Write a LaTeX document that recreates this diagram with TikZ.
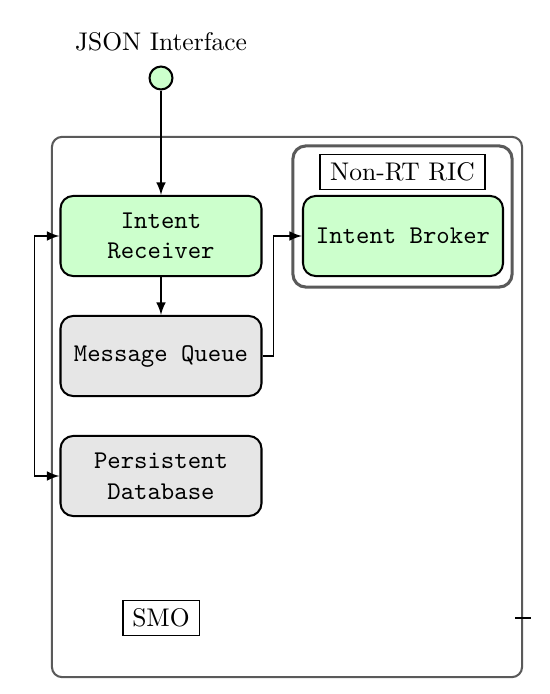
\documentclass[tikz,border=0pt]{standalone}
\usetikzlibrary{arrows}
\definecolor{rxgreen}{RGB}{204,255,204}
\definecolor{qgray}{RGB}{230,230,230}
\definecolor{framegray}{RGB}{90,90,90}
\begin{document}
\begin{tikzpicture}[
                     x = 0.392pt,
                     y = -0.392pt,
          block/.style = {draw, thick, rounded corners=5pt, minimum width=78.8pt,
                          minimum height=31.4pt, align=center, font=\ttfamily},
      greenbox/.style = {block, fill=rxgreen},
       graybox/.style = {block, fill=qgray},
      tagbox/.style = {draw, semithick, inner sep=3pt, minimum height=13.7pt},
         flow/.style = {draw, line width=0.7pt, -latex},
                     ]
\useasboundingbox (0,0) rectangle (550,694);
% containers
\node[draw=framegray, thick, rounded corners=4pt, minimum width=184.3pt,
      minimum height=211.8pt] (smo) at (287,407) {};
\node[draw=framegray, line width=1.2pt, rounded corners=5pt, minimum width=85.9pt,
      minimum height=55.3pt] (ric) at (402.5,216.5) {};
% labels
\node (json) at (161,42) {JSON Interface};
\node[circle, draw, thick, fill=rxgreen, minimum size=9pt, inner sep=0pt] (port) at (161,78) {};
\node[tagbox, minimum width=64.7pt] (riclabel) at (402.5,172) {Non-RT RIC};
\node[tagbox, minimum width=30pt] (smolabel) at (161,618) {SMO};
% blocks
\node[greenbox] (rcv) at (161,236) {Intent\\Receiver};
\node[graybox] (mq) at (161,356) {Message Queue};
\node[graybox] (db) at (161,476) {Persistent\\Database};
\node[greenbox, minimum width=78.4pt] (broker) at (403,236) {Intent Broker};
% arrows
\draw[flow] (port) -- (rcv);
\draw[flow] (rcv) -- (mq);
\draw[flow] (mq.east) -- ++(11,0) |- (broker.west);
\draw[flow, latex-latex] (rcv.west) -- ++(-25,0) |- (db.west);
\coordinate (tick) at (smo.east |- smolabel);
\draw[line width=0.7pt] (tick) ++(-8,0) -- ++(16,0);
\end{tikzpicture}
\end{document}
